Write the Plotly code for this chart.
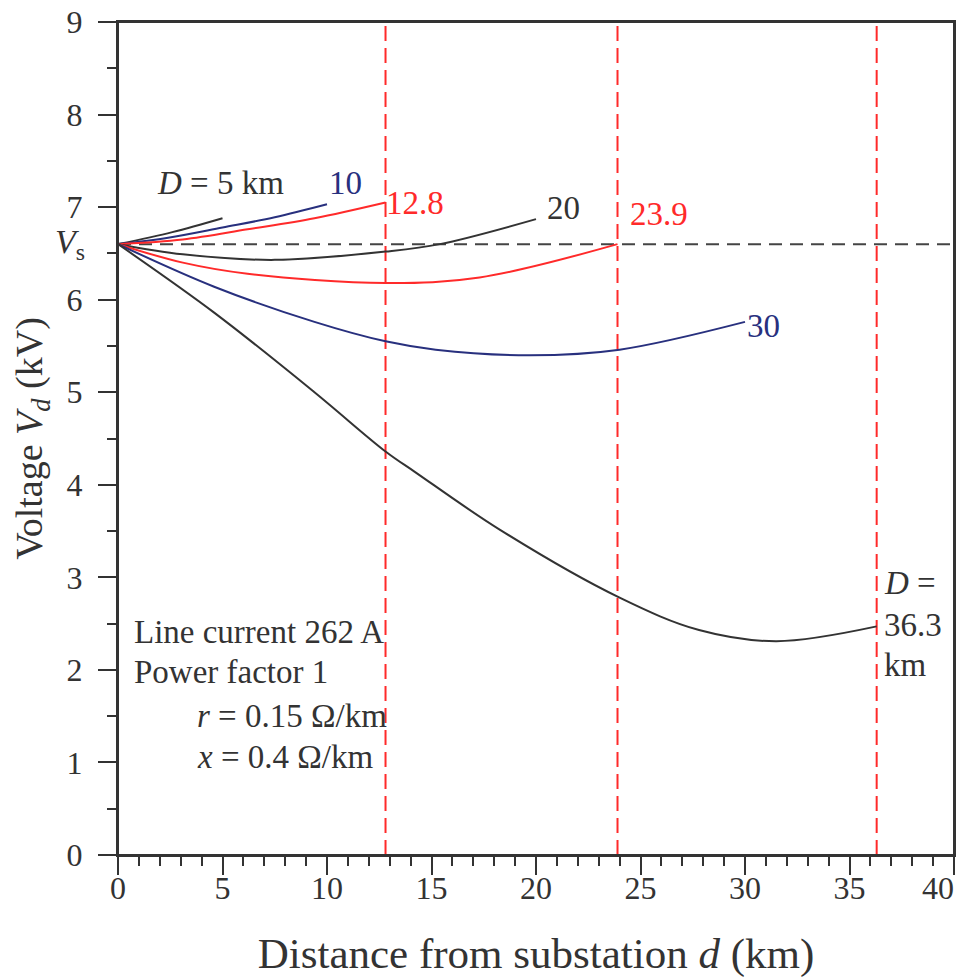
import plotly.graph_objects as go

# voltage profiles (d in km, V in kV)
d5_d = [0, 2.6, 5.0]
d5_v = [6.6, 6.73, 6.88]
d10_d = [0, 2.4, 5.0, 7.5, 10.0]
d10_v = [6.6, 6.67, 6.78, 6.89, 7.03]
d12_d = [0, 3.1, 6.2, 9.4, 12.8]
d12_v = [6.6, 6.65, 6.76, 6.88, 7.05]
d20_d = [0, 3.1, 7.5, 12.8, 15.4, 20.0]
d20_v = [6.6, 6.49, 6.43, 6.52, 6.6, 6.87]
d23_d = [0, 3.1, 6.2, 12.8, 17.3, 23.9]
d23_v = [6.6, 6.40, 6.28, 6.18, 6.24, 6.6]
d30_d = [0, 4.6, 9.4, 12.8, 15.2, 19.7, 24.0, 30.0]
d30_v = [6.6, 6.14, 5.76, 5.55, 5.46, 5.40, 5.46, 5.76]
d36_d = [0, 4.6, 9.4, 12.8, 14.2, 18.3, 24.0, 27.8, 31.5, 36.3]
d36_v = [6.6, 5.86, 5.0, 4.36, 4.14, 3.51, 2.78, 2.43, 2.31, 2.47]

vs = 6.6
limit_d = [12.8, 23.9, 36.3]

x_ticks = [0, 5, 10, 15, 20, 25, 30, 35, 40]
x_ticktext = ["0", "5", "10", "15", "20", "25", "30", "35",
              "40\u00a0\u00a0\u00a0\u00a0"]  # padded so the last label stays on the page

BLACK = "#333333"
BLUE = "#28307e"
RED = "#ff2a2a"
FONT = "Liberation Serif"

fig = go.Figure()

# Vs reference line
fig.add_trace(go.Scatter(x=[0, 40], y=[vs, vs], mode="lines",
                         line=dict(color="#444444", width=2, dash="13px,8px")))
# limit lines
for d in limit_d:
    fig.add_trace(go.Scatter(x=[d, d], y=[0, 9], mode="lines",
                             line=dict(color=RED, width=2, dash="15px,7px")))

curves = [(d5_d, d5_v, BLACK), (d10_d, d10_v, BLUE), (d12_d, d12_v, RED),
          (d20_d, d20_v, BLACK), (d23_d, d23_v, RED), (d30_d, d30_v, BLUE),
          (d36_d, d36_v, BLACK)]
for xs, ys, c in curves:
    fig.add_trace(go.Scatter(x=xs, y=ys, mode="lines",
                             line=dict(color=c, width=2, shape="spline")))

def note(x, y, text, color=BLACK, anchor="center", size=33):
    fig.add_annotation(x=x, y=y, text=text, showarrow=False, xanchor=anchor,
                       font=dict(family=FONT, size=size, color=color))

note(4.9, 7.26, "<i>D</i> = 5 km")
note(10.9, 7.26, "10", BLUE)
note(14.2, 7.04, "12.8", RED)
note(21.3, 6.99, "20")
note(25.9, 6.93, "23.9", RED)
note(30.0, 5.72, "30", BLUE, "left")
note(36.55, 2.94, "<i>D</i> =", anchor="left")
note(36.55, 2.48, "36.3", anchor="left")
note(36.55, 2.05, "km", anchor="left")
note(0.67, 2.41, "Line current 262 A", anchor="left")
note(0.67, 1.98, "Power factor 1", anchor="left")
note(3.68, 1.50, "<i>r</i> = 0.15 Ω/km", anchor="left")
note(3.68, 1.06, "<i>x</i> = 0.4 Ω/km", anchor="left")

# Vs label next to the axis
fig.add_annotation(x=0, y=vs, xref="x", yref="y", xshift=-48, text="<i>V</i><sub>s</sub>",
                   showarrow=False, font=dict(family=FONT, size=34, color=BLACK))

# plot frame
fig.add_shape(type="rect", xref="paper", yref="paper", x0=0, x1=1, y0=0, y1=1,
              line=dict(color=BLACK, width=2), layer="above")

axis = dict(showgrid=False, zeroline=False, showline=True, linecolor=BLACK,
            linewidth=2, mirror=True, ticks="outside", ticklen=18, tickwidth=2,
            tickcolor=BLACK, automargin=False, ticklabeloverflow="allow",
            tickfont=dict(family=FONT, size=32, color=BLACK))

fig.update_xaxes(range=[0, 40], tickvals=x_ticks, ticktext=x_ticktext, ticklabelstandoff=-14,
                 minor=dict(dtick=1, ticks="outside", ticklen=9, tickwidth=2, tickcolor=BLACK),
                 title=dict(text="Distance from substation <i>d</i> (km)", standoff=44,
                            font=dict(family=FONT, size=43, color=BLACK)), **axis)
fig.update_yaxes(range=[0, 9], dtick=1, tick0=0, ticklabelstandoff=9,
                 minor=dict(dtick=0.5, ticks="outside", ticklen=9, tickwidth=2, tickcolor=BLACK),
                 title=dict(text="\u00a0\u00a0\u00a0Voltage <i>V</i><sub><i>d</i></sub> (kV)", standoff=20,
                            font=dict(family=FONT, size=38, color=BLACK)), **axis)

# page body adds an 8px margin, so size the figure to the window from there
fig.update_layout(width=958, height=970, showlegend=False,
                  plot_bgcolor="white", paper_bgcolor="white",
                  margin=dict(l=110, r=12, t=14, b=123))

fig.write_html("out.html")
